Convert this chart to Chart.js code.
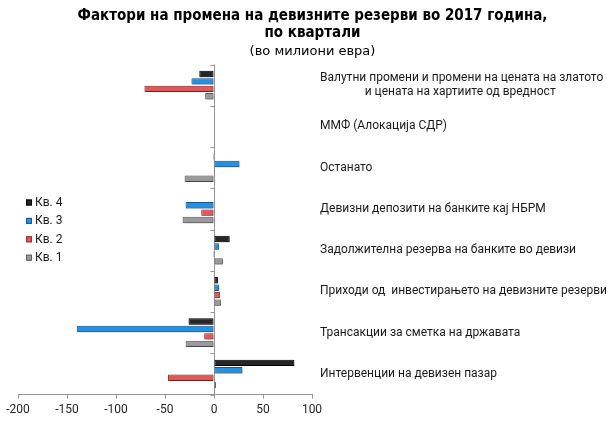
<!DOCTYPE html>
<html>
<head>
<meta charset="utf-8">
<script src="https://cdn.jsdelivr.net/npm/chart.js@4/dist/chart.umd.min.js"></script>
<style>
  html, body { margin: 0; padding: 0; background: #ffffff; }
  #wrap { width: 607px; height: 421px; }
</style>
</head>
<body>
<div id="wrap"><canvas id="c"></canvas></div>
<script>
// Categories, top to bottom
const categories = [
  ['Валутни промени и промени на цената на златото', 'и цената на хартиите од вредност'],
  'ММФ (Алокација СДР)',
  'Останато',
  'Девизни депозити на банките кај НБРМ',
  'Задолжителна резерва на банките во девизи',
  'Приходи од  инвестирањето на девизните резерви',
  'Трансакции за сметка на државата',
  'Интервенции на девизен пазар'
];

// Quarterly values, millions of euros
const seriesNames = ['Кв. 4', 'Кв. 3', 'Кв. 2', 'Кв. 1'];
const q4 = [-15, 0, -1, 0, 16, 4, -26, 82];
const q3 = [-23, 0, 26, -29, 5, 5, -140, 29];
const q2 = [-71, 0, 1, -13, -1, 6, -10, -47];
const q1 = [-9, 0, -30, -32, 9, 7, -29, 2];

// Value axis
const xMin = -200;
const xMax = 100;
const xStep = 50;

const axisGrey = '#969696';
const labelFont = { family: 'Roboto, "Noto Sans", sans-serif', size: 12 };
const fillColors = ['#262626', '#2590e0', '#e05858', '#9a9a9a'];
const edgeColors = ['#000000', '#0d5a9c', '#9c2a2a', '#5e5e5e'];

// Centre the second line of a two-line category label under the first
function centreLines(lines) {
  if (!Array.isArray(lines)) return lines;
  const m = document.createElement('canvas').getContext('2d');
  m.font = labelFont.size + 'px ' + labelFont.family;
  const widest = Math.max(...lines.map(l => m.measureText(l).width));
  const sp = m.measureText(' ').width;
  return lines.map(l => ' '.repeat(Math.round((widest - m.measureText(l).width) / 2 / sp)) + l);
}

// Category axis line at zero, with tick marks between the categories
const zeroAxis = {
  id: 'zeroAxis',
  beforeDatasetsDraw(chart, args, opts) {
    const { ctx, chartArea, scales } = chart;
    const x0 = Math.round(scales.x.getPixelForValue(0)) + 0.5;
    ctx.save();
    ctx.strokeStyle = opts.color;
    ctx.lineWidth = 1;
    ctx.beginPath();
    ctx.moveTo(x0, chartArea.top);
    ctx.lineTo(x0, chartArea.bottom);
    for (let i = 0; i <= scales.y.ticks.length; i++) {
      const py = Math.round(scales.y.getPixelForValue(i - 0.5)) + 0.5;
      ctx.moveTo(x0 - opts.tickLength, py);
      ctx.lineTo(x0, py);
    }
    ctx.stroke();
    ctx.restore();
  }
};

// Legend drawn inside the plot, on the empty left side
const quarterLegend = {
  id: 'quarterLegend',
  afterDraw(chart, args, opts) {
    const { ctx, chartArea } = chart;
    ctx.save();
    ctx.font = labelFont.size + 'px ' + labelFont.family;
    ctx.textBaseline = 'middle';
    chart.data.datasets.forEach((ds, i) => {
      const x = chartArea.left + opts.left;
      const y = chartArea.top + opts.top + i * opts.rowHeight;
      ctx.fillStyle = ds.backgroundColor;
      ctx.fillRect(x, y - 3, 6, 6);
      ctx.strokeStyle = ds.borderColor;
      ctx.lineWidth = 1;
      ctx.strokeRect(x + 0.5, y - 2.5, 5, 5);
      ctx.fillStyle = '#1a1a1a';
      ctx.fillText(ds.label, x + 9, y + 0.5);
    });
    ctx.restore();
  }
};

// Soft drop shadow under the bars
const barShadow = {
  id: 'barShadow',
  beforeDatasetsDraw(chart) {
    const ctx = chart.ctx;
    ctx.save();
    ctx.shadowColor = 'rgba(0,0,0,0.35)';
    ctx.shadowBlur = 2;
    ctx.shadowOffsetX = 1;
    ctx.shadowOffsetY = 1;
  },
  afterDatasetsDraw(chart) {
    chart.ctx.restore();
  }
};

const seriesValues = [q4, q3, q2, q1];

new Chart(document.getElementById('c'), {
  type: 'bar',
  data: {
    labels: categories.map(centreLines),
    datasets: seriesNames.map((name, i) => ({
      label: name,
      data: seriesValues[i],
      backgroundColor: fillColors[i],
      borderColor: edgeColors[i],
      borderWidth: 1,
      borderSkipped: false,
      categoryPercentage: 0.72,
      barPercentage: 0.86
    }))
  },
  options: {
    indexAxis: 'y',
    responsive: true,
    maintainAspectRatio: false,
    animation: false,
    layout: { padding: { left: 18, right: 0, top: 0, bottom: 0 } },
    plugins: {
      legend: { display: false },
      tooltip: { enabled: false },
      title: {
        display: true,
        text: ['Фактори на промена на девизните резерви во 2017 година,', 'по квартали'],
        color: '#000000',
        font: { family: '"DejaVu Sans Condensed", "DejaVu Sans", sans-serif', size: 15, weight: 'bold', lineHeight: 1.13 },
        padding: { top: 8, bottom: 2 }
      },
      subtitle: {
        display: true,
        text: '(во милиони евра)',
        color: '#000000',
        font: { family: '"DejaVu Sans", sans-serif', size: 13, lineHeight: 1.2 },
        padding: { top: 0, bottom: 5 }
      },
      zeroAxis: { color: axisGrey, tickLength: 4 },
      quarterLegend: { left: 8, top: 138, rowHeight: 18.4 }
    },
    scales: {
      x: {
        min: xMin,
        max: xMax,
        ticks: { stepSize: xStep, font: labelFont, color: '#262626', padding: 4 },
        grid: { drawOnChartArea: false, drawTicks: true, tickLength: 4, color: axisGrey },
        border: { display: true, color: axisGrey }
      },
      y: {
        position: 'right',
        grid: { display: false, drawTicks: false },
        border: { display: false },
        ticks: { padding: 8, font: labelFont, color: '#1a1a1a', autoSkip: false },
        afterFit(scale) { scale.width = 295; }
      }
    }
  },
  plugins: [zeroAxis, barShadow, quarterLegend]
});
</script>
</body>
</html>
